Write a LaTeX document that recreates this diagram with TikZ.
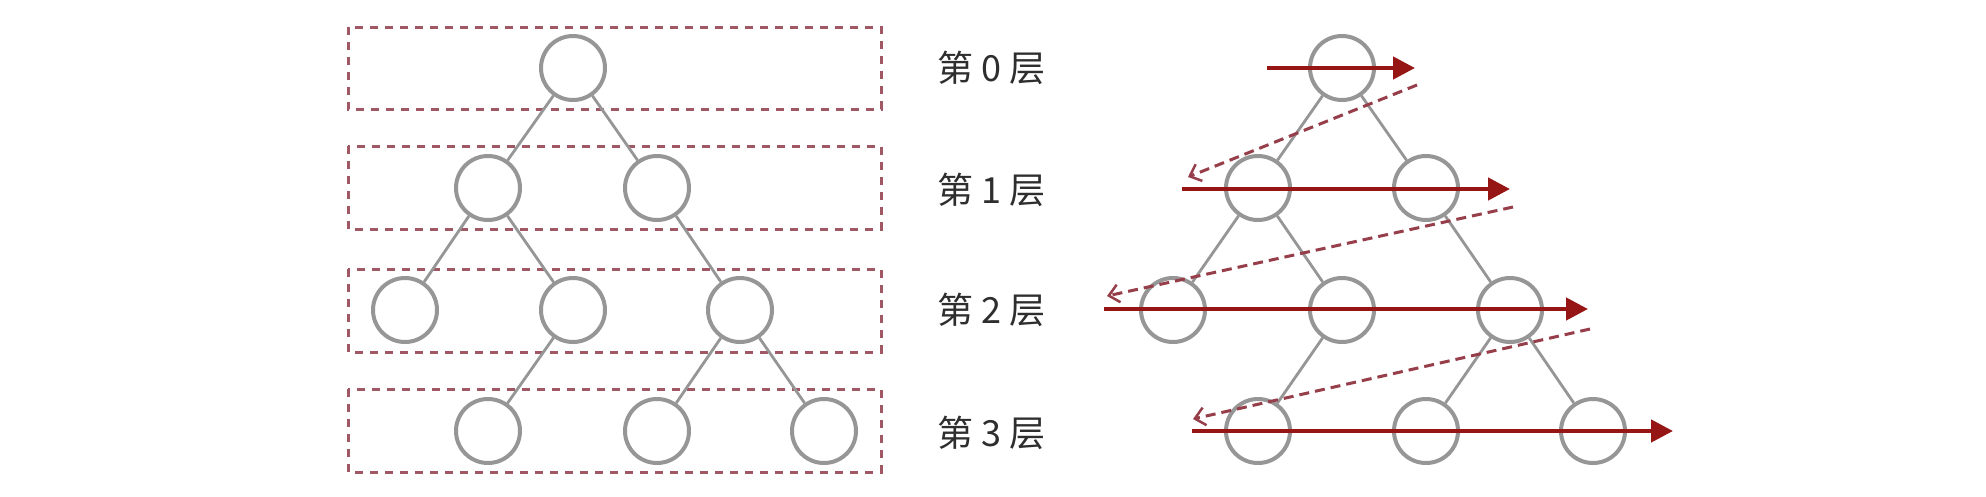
\documentclass[tikz,border=0pt]{standalone}
\usepackage{fontspec}
\newfontfamily\cjk{Noto Sans CJK SC}
\usetikzlibrary{arrows.meta}
\definecolor{nodegray}{RGB}{150,150,150}
\definecolor{boxred}{RGB}{160,88,100}
\definecolor{arrred}{RGB}{150,22,22}
\definecolor{dashred}{RGB}{150,62,74}
\begin{document}
\begin{tikzpicture}[x=1pt,y=-1pt,
  tn/.style={circle,draw=nodegray,line width=4pt,minimum size=64pt,inner sep=0pt,fill=white},
  edge/.style={draw=nodegray,line width=2.8pt},
  layerbox/.style={draw=boxred,line width=3pt,dash pattern=on 8pt off 7pt},
  lbl/.style={anchor=west,font=\cjk\fontsize{36}{40}\selectfont,text=black!82,inner sep=0pt},
  sweep/.style={draw=arrred,line width=4.5pt,-{Triangle[length=22pt,width=22pt]}},
  back/.style={draw=dashred,line width=3pt,dash pattern=on 10pt off 6pt,-{Straight Barb[length=10pt,width=18pt,line width=2.5pt]}}
]
\useasboundingbox (0,0) rectangle (1986,496);
\fill[white] (0,0) rectangle (1986,496);

% layer boxes (left)
\draw[layerbox] (348,27) rectangle (881,109);
\draw[layerbox] (348,146) rectangle (881,229);
\draw[layerbox] (348,269) rectangle (881,352);
\draw[layerbox] (348,389) rectangle (881,472);

% left tree
\node[tn] (a0)  at (573,68) {};
\node[tn] (a1)  at (488,188) {};
\node[tn] (a2)  at (657,188) {};
\node[tn] (a3)  at (405,310) {};
\node[tn] (a4)  at (573,310) {};
\node[tn] (a5)  at (740,310) {};
\node[tn] (a6)  at (488,431) {};
\node[tn] (a7)  at (657,431) {};
\node[tn] (a8)  at (824,431) {};
\draw[edge] (a0) -- (a1);
\draw[edge] (a0) -- (a2);
\draw[edge] (a1) -- (a3);
\draw[edge] (a1) -- (a4);
\draw[edge] (a2) -- (a5);
\draw[edge] (a4) -- (a6);
\draw[edge] (a5) -- (a7);
\draw[edge] (a5) -- (a8);

% labels
\node[lbl] (l0) at (937,68) {第 0 层};
\node[lbl] (l1) at (937,190) {第 1 层};
\node[lbl] (l2) at (937,310) {第 2 层};
\node[lbl] (l3) at (937,433) {第 3 层};

% right tree
\node[tn] (b0)  at (1342,68) {};
\node[tn] (b1)  at (1258,188) {};
\node[tn] (b2)  at (1426,188) {};
\node[tn] (b3)  at (1173,310) {};
\node[tn] (b4)  at (1342,310) {};
\node[tn] (b5)  at (1510,310) {};
\node[tn] (b6)  at (1258,431) {};
\node[tn] (b7)  at (1426,431) {};
\node[tn] (b8)  at (1593,431) {};
\draw[edge] (b0) -- (b1);
\draw[edge] (b0) -- (b2);
\draw[edge] (b1) -- (b3);
\draw[edge] (b1) -- (b4);
\draw[edge] (b2) -- (b5);
\draw[edge] (b4) -- (b6);
\draw[edge] (b5) -- (b7);
\draw[edge] (b5) -- (b8);

% sweep coordinates
\coordinate (s0a) at (1267,68);
\coordinate (s0b) at (1415,68);
\coordinate (s1a) at (1182,189);
\coordinate (s1b) at (1510,189);
\coordinate (s2a) at (1104,309);
\coordinate (s2b) at (1588,309);
\coordinate (s3a) at (1192,431);
\coordinate (s3b) at (1673,431);
\coordinate (r0a) at (1417,85);
\coordinate (r0b) at (1188,177);
\coordinate (r1a) at (1513,207);
\coordinate (r1b) at (1107,296);
\coordinate (r2a) at (1590,329);
\coordinate (r2b) at (1193,419);

\draw[sweep] (s0a) -- (s0b);
\draw[sweep] (s1a) -- (s1b);
\draw[sweep] (s2a) -- (s2b);
\draw[sweep] (s3a) -- (s3b);
\draw[back] (r0a) -- (r0b);
\draw[back] (r1a) -- (r1b);
\draw[back] (r2a) -- (r2b);
\end{tikzpicture}
\end{document}
